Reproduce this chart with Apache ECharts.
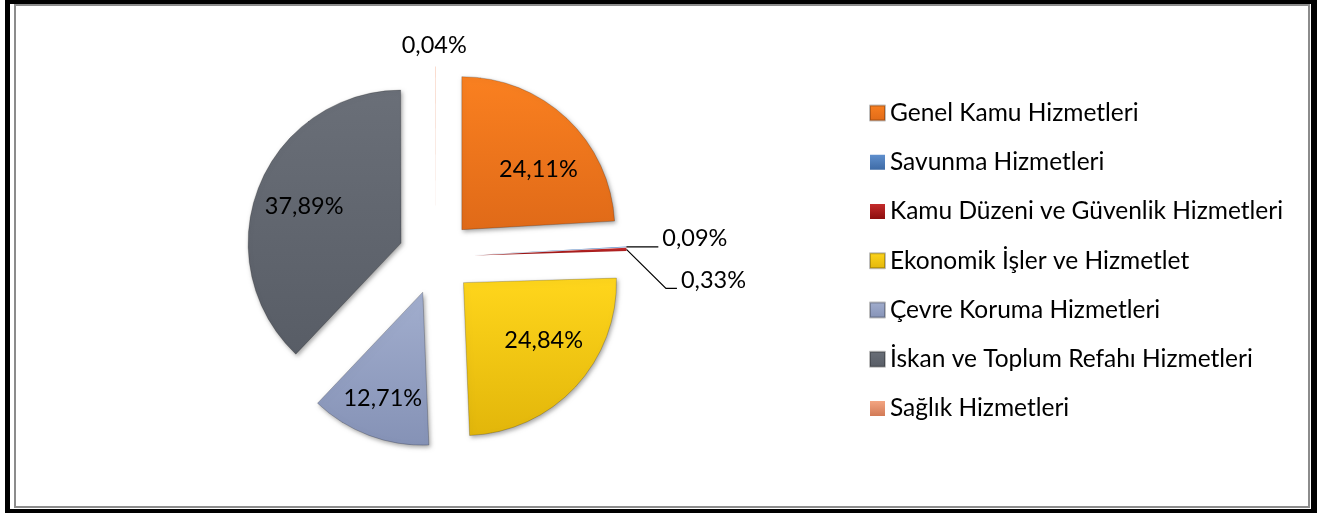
<!DOCTYPE html>
<html><head><meta charset="utf-8">
<script src="https://cdn.jsdelivr.net/npm/echarts@6/dist/echarts.min.js"></script>
<style>html,body{margin:0;padding:0;background:#fff;} #c{width:1323px;height:513px;}</style>
</head><body><div id="c"></div>
<script>
const categories = ['Genel Kamu Hizmetleri', 'Savunma Hizmetleri', 'Kamu Düzeni ve Güvenlik Hizmetleri', 'Ekonomik İşler ve Hizmetlet', 'Çevre Koruma Hizmetleri', 'İskan ve Toplum Refahı Hizmetleri', 'Sağlık Hizmetleri'];
const shares = [24.11, 0.09, 0.33, 24.84, 12.71, 37.89, 0.04];
const topColors = ['#FA8020', '#5F8FCD', '#C42B2B', '#FFD61C', '#A2AECE', '#6A6F78', '#F3A582'];
const bottomColors = ['#E06A18', '#3E6BA6', '#8C0E0E', '#E2B60A', '#8592B6', '#585D66', '#D27A56'];

// label nudges (px) relative to ECharts default label positions
const nudges = [[22, -2], [0, 0], [39.5, 39], [22, 4], [-12, 32], [-23, -7], [31, -21]];
const FONT = 'Lato';
const CX = 436, CY = 257, R = 153, EXPLODE = 37.6;

const chart = echarts.init(document.getElementById('c'), null, {renderer: 'canvas'});
function fmt(v) { return v.toFixed(2).replace('.', ',') + '%'; }

const total = shares.reduce((a, b) => a + b, 0);
const series = [];
let cum = 0;
categories.forEach((name, i) => {
  const v = shares[i];
  const startDeg = 90 - cum / total * 360;
  const mid = (cum + v / 2) / total * 2 * Math.PI;
  cum += v;
  const tiny = v < 1;
  const slice = {
    name: name,
    value: v,
    itemStyle: {
      color: new echarts.graphic.LinearGradient(0, 0, 0, 1, [
        {offset: 0, color: topColors[i]}, {offset: 1, color: bottomColors[i]}
      ]),
      borderWidth: tiny ? 0 : 0.8,
      shadowColor: tiny ? 'rgba(0,0,0,0)' : 'rgba(0,0,0,0.35)'
    }
  };
  if (i === 1 || i === 2) {
    slice.label = {position: 'outside', padding: [0, 0, 0, 4], distanceToLabelLine: 0, lineHeight: 16,
      formatter: p => fmt(p.value) + '\n '};
    slice.labelLine = {show: true, length: 0, length2: i === 1 ? 32 : 11, lineStyle: {color: '#000', width: 1.2}};
  } else if (i === 6) {
    slice.label = {position: 'outside', padding: 0, distanceToLabelLine: 0};
    slice.labelLine = {show: false, length: 0, length2: 0};
  }
  const rest = {
    name: '',
    value: total - v,
    itemStyle: {color: 'rgba(0,0,0,0)', borderWidth: 0, shadowColor: 'rgba(0,0,0,0)'},
    label: {show: false},
    labelLine: {show: false}
  };
  series.push({
    type: 'pie',
    name: 'slice-' + i,
    center: [CX + EXPLODE * Math.sin(mid), CY - EXPLODE * Math.cos(mid)],
    radius: [0, R],
    startAngle: startDeg,
    clockwise: true,
    avoidLabelOverlap: false,
    minAngle: 0,
    silent: true,
    emphasis: {disabled: true},
    itemStyle: {
      borderColor: 'rgba(0,0,0,0.25)',
      shadowBlur: 4, shadowOffsetX: 1.5, shadowOffsetY: 2
    },
    label: {
      show: true,
      position: 'inside',
      formatter: p => fmt(p.value),
      fontFamily: FONT,
      fontSize: 23.5,
      color: '#000'
    },
    labelLayout: function (p) {
      if (p.dataIndex !== 0) return {};
      const n = nudges[i];
      const r = p.labelRect;
      if (i === 1 || i === 2) {
        return {x: r.x + n[0], y: r.y + r.height / 2 + n[1], align: 'left', verticalAlign: 'middle'};
      }
      if (i === 6) {
        return {x: r.x + r.width + n[0], y: r.y + r.height / 2 + n[1], align: 'right', verticalAlign: 'middle'};
      }
      return {x: r.x + r.width / 2 + n[0], y: r.y + r.height / 2 + n[1], align: 'center', verticalAlign: 'middle'};
    },
    data: [slice, rest]
  });
});

chart.setOption({
  animation: false,
  graphic: [
    {type: 'rect', shape: {x: 5, y: 0, width: 1312, height: 4}, style: {fill: '#000'}},
    {type: 'rect', shape: {x: 5, y: 0, width: 5, height: 513}, style: {fill: '#000'}},
    {type: 'rect', shape: {x: 1311, y: 0, width: 6, height: 513}, style: {fill: '#000'}},
    {type: 'rect', shape: {x: 5, y: 509, width: 1312, height: 4}, style: {fill: '#000'}},
    {type: 'rect', shape: {x: 15, y: 5, width: 1294, height: 502}, style: {fill: 'none', stroke: '#8c8c8c', lineWidth: 2}}
  ],
  legend: {
    orient: 'vertical',
    left: 869,
    top: 100.5,
    padding: 0,
    itemWidth: 15,
    itemHeight: 15,
    itemGap: 24.25,
    icon: 'rect',
    data: categories,
    selectedMode: false,
    textStyle: {fontFamily: FONT, fontSize: 24.5, lineHeight: 24, color: '#000'}
  },
  series: series
});
</script>
</body></html>
